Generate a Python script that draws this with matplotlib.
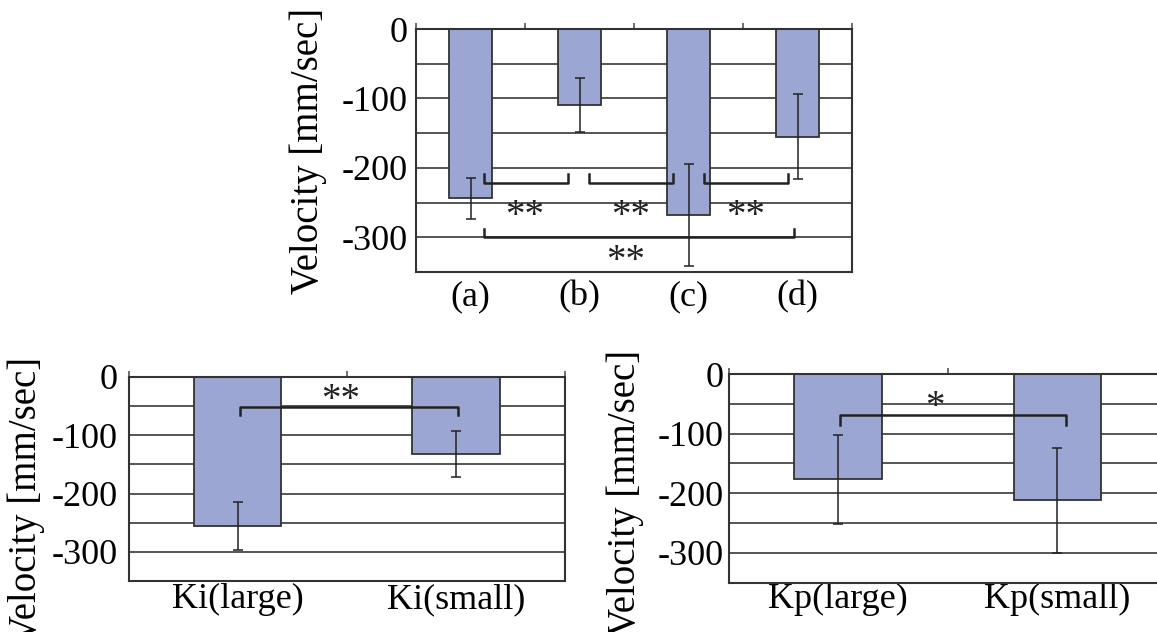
import numpy as np
import matplotlib.pyplot as plt

plt.rcParams['font.family'] = ['Liberation Serif', 'DejaVu Serif']

# mean velocity and standard deviation per condition
cond_labels = ['(a)', '(b)', '(c)', '(d)']
cond_mean = [-244, -110, -268, -155]
cond_err = [30, 39, 74, 61]

ki_labels = ['Ki(large)', 'Ki(small)']
ki_mean = [-256, -132]
ki_err = [41, 39]

kp_labels = ['Kp(large)', 'Kp(small)']
kp_mean = [-177, -212]
kp_err = [75, 88]

y_ticks = [0, -100, -200, -300]
y_ticklabels = ['0', '-100', '-200', '-300']

BAR = '#9ba6d3'
EDGE = '#333333'
LINE = '#222222'


def bar_panel(ax, labels, means, errs, ypad, xpad):
    x = np.arange(len(labels))
    ax.bar(x, means, width=0.4, color=BAR, edgecolor=EDGE, linewidth=1.3, zorder=2)
    ax.errorbar(x, means, yerr=errs, fmt='none', ecolor=LINE, elinewidth=1.1,
                capsize=3.5, capthick=1.1, zorder=3)
    ax.set_xlim(-0.5, len(labels) - 0.5)
    ax.set_ylim(-350, 0)
    ax.set_yticks(y_ticks, y_ticklabels)
    ax.set_yticks(np.arange(-350, 1, 50), minor=True)
    ax.grid(axis='y', which='both', color='#555555', linewidth=1.4)
    ax.set_axisbelow(True)
    ax.set_xticks(x, labels)
    ax.set_xticks(np.arange(-0.5, len(labels)), minor=True)
    ax.tick_params(axis='x', which='major', length=0, labelsize=26, pad=xpad)
    ax.tick_params(axis='x', which='minor', bottom=False, top=True,
                   direction='out', length=4, width=1.2, color='#555555')
    ax.tick_params(axis='y', which='both', length=0, labelsize=26, pad=ypad)
    for s in ax.spines.values():
        s.set_color(EDGE)
        s.set_linewidth(1.5)
    ax.set_ylabel('Velocity [mm/sec]', fontsize=28)


def bracket(ax, x1, x2, y, yend, text, tx, ty, size=28):
    ax.plot([x1, x1, x2, x2], [yend, y, y, yend], color=LINE, lw=1.8,
            zorder=4, clip_on=False)
    # centre the asterisks on ty
    ax.annotate(text, (tx, ty), xytext=(0, -0.47 * size), textcoords='offset points',
                ha='center', va='baseline', fontsize=size, color=LINE, zorder=5)


fig = plt.figure(figsize=(11.57, 6.32), dpi=100)

ax1 = fig.add_axes([0.3596, 0.5696, 0.3768, 0.3845])
bar_panel(ax1, cond_labels, cond_mean, cond_err, ypad=5.8, xpad=6)
ax1.yaxis.set_label_coords(-0.204, 0.5)
bracket(ax1, 0.12, 0.89, -222, -209, '**', 0.50, -258)
bracket(ax1, 1.09, 1.86, -222, -209, '**', 1.47, -258)
bracket(ax1, 2.14, 2.91, -222, -209, '**', 2.52, -258)
bracket(ax1, 0.12, 2.97, -300, -288, '**', 1.42, -322)

ax2 = fig.add_axes([0.1111, 0.0807, 0.3773, 0.3228])
bar_panel(ax2, ki_labels, ki_mean, ki_err, ypad=7.6, xpad=1.5)
ax2.yaxis.set_label_coords(-0.192, 0.397)
bracket(ax2, 0.01, 1.01, -51, -66, '**', 0.47, -26)

ax3 = fig.add_axes([0.6297, 0.0783, 0.3790, 0.3299])
bar_panel(ax3, kp_labels, kp_mean, kp_err, ypad=3.4, xpad=0.5)
ax3.yaxis.set_label_coords(-0.193, 0.43)
bracket(ax3, 0.01, 1.04, -69, -85, '*', 0.44, -41)

fig.savefig('out.png', dpi=100)
